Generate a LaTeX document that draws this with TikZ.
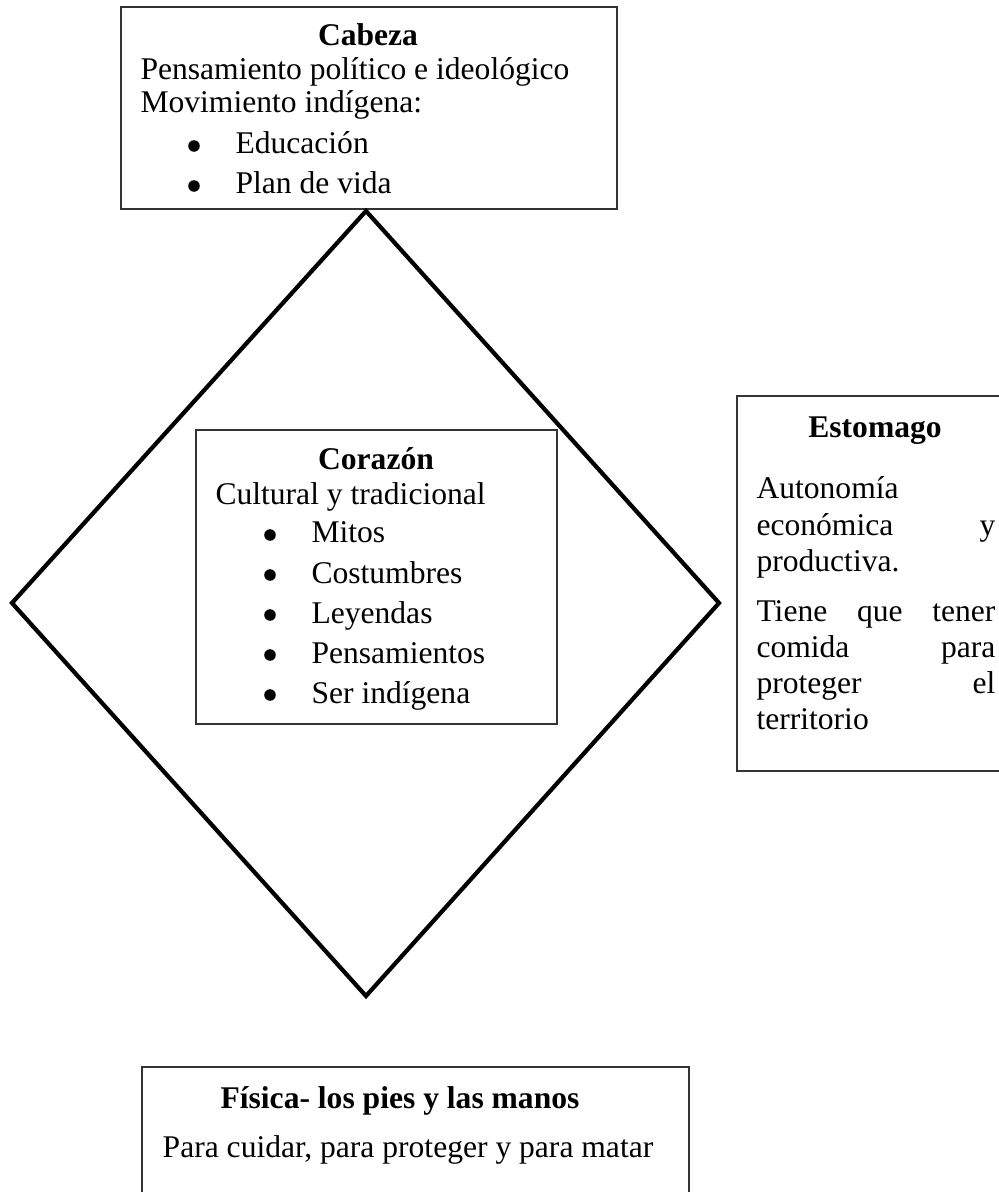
\documentclass[tikz,border=0pt]{standalone}
\usepackage{fontspec}
\setmainfont{Liberation Serif}
\usetikzlibrary{positioning}
\newcommand{\pxu}{0.38pt}

\begin{document}
\begin{tikzpicture}[x=0.38pt, y=-0.38pt,
  box/.style={draw=black!80, line width=0.6pt, rectangle, anchor=north west, inner sep=0pt},
  txt/.style={anchor=base west, inner sep=0pt, font=\fontsize{12}{14}\selectfont},
  ttl/.style={anchor=base, inner sep=0pt, font=\fontsize{12}{14}\selectfont\bfseries},
  ctr/.style={anchor=base, inner sep=0pt, font=\fontsize{12}{14}\selectfont},
  dot/.style={fill=black, radius=2.2pt}]
\path[use as bounding box, fill=white] (0,0) rectangle (998,1192);

% cabeza
\node[box, minimum width=496*\pxu, minimum height=202*\pxu] (cabeza) at (120,6) {};
\node[ttl] (cab-t) at (368,46) {Cabeza};
\node[txt] (cab-1) at (140,80) {Pensamiento político e ideológico};
\node[txt] (cab-2) at (140,113) {Movimiento indígena:};
\node[txt] (cab-b1) at (235,154) {Educación};
\node[txt] (cab-b2) at (235,194) {Plan de vida};
\fill[dot] (194,146) circle;
\fill[dot] (194,186) circle;

% rombo
\draw[line width=1.6pt, line join=miter] (366,211) -- (719,603) -- (366,996) -- (12,603) -- cycle;

% corazon
\node[box, minimum width=361*\pxu, minimum height=294*\pxu] (corazon) at (195,429) {};
\node[ttl] (cor-t) at (376,470) {Corazón};
\node[txt] (cor-1) at (215,505) {Cultural y tradicional};
\foreach \w [count=\i] in {Mitos,Costumbres,Leyendas,Pensamientos,Ser indígena}{
  \node[txt] (cor-b\i) at (311,503+40*\i) {\w};
  \fill[dot] (270,495+40*\i) circle;
}

% estomago
\node[box, minimum width=290*\pxu, minimum height=375*\pxu] (estomago) at (736,395) {};
\node[ttl] (est-t) at (875,438) {Estomago};
\node[txt] (est-1) at (756,499) {Autonomía};
\node[txt] (est-2) at (756,535) {\makebox[90.8pt][s]{económica\hfill y}};
\node[txt] (est-3) at (756,571) {productiva.};
\node[txt] (est-4) at (756,621) {\makebox[90.8pt][s]{Tiene\hfill que\hfill tener}};
\node[txt] (est-5) at (756,657) {\makebox[90.8pt][s]{comida\hfill para}};
\node[txt] (est-6) at (756,693) {\makebox[90.8pt][s]{proteger\hfill el}};
\node[txt] (est-7) at (756,729) {territorio};

% fisica
\node[box, minimum width=547*\pxu, minimum height=150*\pxu] (fisica) at (141,1066) {};
\node[ttl] (fis-t) at (400,1108) {Física- los pies y las manos};
\node[ctr] (fis-1) at (408,1157) {Para cuidar, para proteger y para matar};
\end{tikzpicture}
\end{document}
